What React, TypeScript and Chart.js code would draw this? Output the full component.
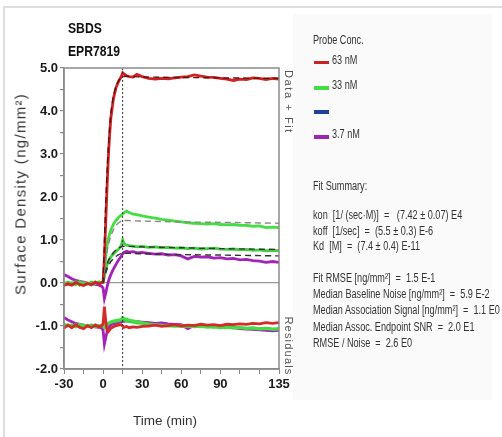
import React, { useEffect, useRef } from "react";
import { Chart, registerables } from "chart.js";

Chart.register(...registerables);

// ---------- data ----------
const timeMin = [-30, -27, -24, -21, -18, -15, -12, -9, -6, -3, -1, 0, 1, 2, 3, 4, 5, 6, 8, 10, 12, 14, 15, 16, 18, 20, 23, 26, 30, 35, 40, 45, 50, 55, 60, 65, 70, 75, 80, 85, 90, 95, 100, 105, 110, 115, 120, 125, 130, 135];

const red63 = [-0.06, -0.02, -0.05, 0.01, -0.03, -0.06, -0.01, -0.04, 0.02, -0.02, 0.01, 0.02, 0.6, 1.4, 2.2, 2.9, 3.45, 3.85, 4.3, 4.55, 4.7, 4.8, 4.89, 4.86, 4.82, 4.8, 4.79, 4.85, 4.8, 4.76, 4.74, 4.76, 4.75, 4.77, 4.79, 4.8, 4.84, 4.81, 4.79, 4.78, 4.76, 4.74, 4.71, 4.74, 4.73, 4.77, 4.76, 4.73, 4.76, 4.74];
const green33 = [0.02, -0.03, 0.01, -0.04, 0.03, -0.02, 0.0, -0.05, 0.02, -0.01, 0.01, 0.03, 0.32, 0.62, 0.86, 1.03, 1.15, 1.24, 1.37, 1.46, 1.53, 1.58, 1.6, 1.63, 1.67, 1.64, 1.6, 1.59, 1.56, 1.53, 1.51, 1.48, 1.46, 1.44, 1.42, 1.4, 1.39, 1.38, 1.37, 1.38, 1.36, 1.35, 1.36, 1.34, 1.34, 1.32, 1.33, 1.29, 1.3, 1.29];
const greenLow = [-0.04, 0.02, -0.02, 0.03, -0.05, 0.01, -0.03, 0.02, -0.01, 0.03, 0.0, 0.02, 0.15, 0.3, 0.42, 0.5, 0.56, 0.61, 0.68, 0.74, 0.79, 0.88, 1.0, 0.92, 0.88, 0.87, 0.86, 0.84, 0.85, 0.83, 0.84, 0.82, 0.83, 0.81, 0.82, 0.8, 0.81, 0.79, 0.8, 0.81, 0.79, 0.78, 0.79, 0.77, 0.78, 0.76, 0.77, 0.75, 0.76, 0.75];
const purple37 = [0.2, 0.15, 0.1, 0.06, 0.04, 0.02, 0.0, -0.02, -0.03, -0.05, -0.08, -0.12, -0.36, -0.24, -0.1, 0.03, 0.12, 0.2, 0.33, 0.44, 0.54, 0.63, 0.68, 0.71, 0.74, 0.72, 0.73, 0.7, 0.71, 0.69, 0.67, 0.68, 0.65, 0.66, 0.63, 0.56, 0.62, 0.6, 0.61, 0.58, 0.59, 0.56, 0.57, 0.54, 0.55, 0.52, 0.51, 0.48, 0.5, 0.48];

// residuals (drawn offset at -1.0)
const redRes = [-1.05, -0.98, -1.04, -0.97, -1.03, -1.06, -0.99, -1.04, -0.98, -1.02, -0.99, -0.95, -0.55, -0.88, -1.1, -1.13, -1.09, -1.05, -1.02, -0.99, -0.98, -0.97, -1.0, -1.03, -1.01, -1.04, -1.02, -1.03, -1.01, -1.0, -0.98, -1.01, -0.99, -0.97, -1.0, -0.98, -0.99, -0.96, -0.98, -0.97, -0.99, -0.96, -0.97, -0.95, -0.96, -0.94, -0.95, -0.92, -0.94, -0.92];
const green33Res = [-0.95, -1.0, -0.97, -1.02, -0.96, -1.0, -0.98, -1.03, -0.97, -1.0, -0.98, -1.0, -1.04, -0.98, -0.95, -0.93, -0.92, -0.9, -0.88, -0.87, -0.86, -0.84, -0.8, -0.82, -0.84, -0.86, -0.88, -0.9, -0.92, -0.95, -0.97, -0.98, -1.0, -1.0, -1.01, -1.0, -1.02, -1.01, -1.03, -1.02, -1.04, -1.03, -1.05, -1.04, -1.06, -1.05, -1.07, -1.06, -1.08, -1.07];
const greenLowRes = [-1.02, -0.97, -1.01, -0.96, -1.03, -0.98, -1.01, -0.97, -1.02, -0.99, -1.0, -0.99, -1.02, -1.0, -0.97, -0.95, -0.93, -0.92, -0.9, -0.89, -0.88, -0.86, -0.83, -0.86, -0.88, -0.9, -0.91, -0.93, -0.94, -0.96, -0.97, -0.99, -0.98, -1.0, -0.99, -1.01, -1.0, -1.02, -1.0, -1.03, -1.01, -1.02, -1.04, -1.03, -1.05, -1.04, -1.06, -1.05, -1.07, -1.06];
const purpleRes = [-0.8, -0.86, -0.9, -0.94, -0.96, -0.98, -1.0, -1.01, -1.02, -1.03, -1.05, -1.1, -1.42, -1.28, -1.14, -1.05, -1.0, -0.97, -0.95, -0.93, -0.92, -0.9, -0.9, -0.89, -0.88, -0.89, -0.9, -0.9, -0.91, -0.92, -0.94, -0.93, -0.95, -0.96, -0.97, -1.06, -0.98, -0.99, -1.0, -1.01, -1.02, -1.03, -1.04, -1.06, -1.07, -1.08, -1.09, -1.1, -1.11, -1.1];

// fits
const fitTime = [0, 1, 2, 3, 4, 6, 8, 10, 12, 15, 30, 60, 90, 135];
const redFit = [0, 0.9, 1.8, 2.55, 3.15, 3.95, 4.35, 4.58, 4.7, 4.8, 4.79, 4.78, 4.77, 4.76];
const green33Fit = [0, 0.27, 0.52, 0.72, 0.88, 1.1, 1.24, 1.34, 1.4, 1.45, 1.44, 1.42, 1.41, 1.39];
const greenLowFit = [0, 0.15, 0.3, 0.42, 0.51, 0.63, 0.71, 0.77, 0.81, 0.85, 0.84, 0.82, 0.8, 0.78];
const purpleFit = [0, 0.12, 0.23, 0.32, 0.39, 0.5, 0.57, 0.62, 0.66, 0.69, 0.68, 0.66, 0.65, 0.63];

const dissociationStart = 15;
const xTickValues = [-30, -15, 0, 15, 30, 45, 60, 75, 90, 105, 120, 135];
const xTickLabels = [-30, 0, 30, 60, 90, 135];

const legendItems = [
  { label: "63 nM", color: "#c92424" },
  { label: "33 nM", color: "#44dd44" },
  { label: "", color: "#1f3f9f" },
  { label: "3.7 nM", color: "#9b27b0" },
];
const fitLines1 = [
  "kon  [1/ (sec·M)]  =   (7.42 ± 0.07) E4",
  "koff  [1/sec]  =  (5.5 ± 0.3) E-6",
  "Kd  [M]  =  (7.4 ± 0.4) E-11",
];
const fitLines2 = [
  "Fit RMSE [ng/mm²]  =  1.5 E-1",
  "Median Baseline Noise [ng/mm²]  =  5.9 E-2",
  "Median Association Signal [ng/mm²]  =  1.1 E0",
  "Median Assoc. Endpoint SNR  =  2.0 E1",
  "RMSE / Noise  =  2.6 E0",
];

const FONT = "'Liberation Sans', Arial, sans-serif";

function pts(xs: number[], ys: number[]) {
  return xs.map((x, i) => ({ x, y: ys[i] }));
}

const framePlugin = {
  id: "frame",
  afterDatasetsDraw(chart: any) {
    const { ctx, chartArea: a, scales } = chart;
    ctx.save();
    const x = scales.x.getPixelForValue(dissociationStart);
    ctx.strokeStyle = "#333";
    ctx.lineWidth = 1;
    ctx.setLineDash([2, 2]);
    ctx.beginPath();
    ctx.moveTo(x, a.top);
    ctx.lineTo(x, a.bottom);
    ctx.stroke();
    ctx.setLineDash([]);
    ctx.strokeStyle = "#8a8a8a";
    ctx.lineWidth = 1.5;
    ctx.strokeRect(a.left, a.top, a.right - a.left, a.bottom - a.top);
    ctx.restore();
  },
};

export default function App() {
  const ref = useRef<HTMLCanvasElement>(null);
  useEffect(() => {
    const canvas = ref.current!;
    const dataLine = (d: number[], color: string) => ({
      data: pts(timeMin, d),
      borderColor: color,
      borderWidth: 2.8,
      pointRadius: 0,
      tension: 0,
    });
    const fitLine = (d: number[], color: string) => ({
      data: pts(fitTime, d),
      borderColor: color,
      borderWidth: 1.4,
      borderDash: [6, 4],
      pointRadius: 0,
      tension: 0.3,
    });
    const chart = new Chart(canvas, {
      type: "line",
      data: {
        datasets: [
          fitLine(redFit, "#5a1010") as any,
          fitLine(green33Fit, "#888888"),
          fitLine(greenLowFit, "#333333"),
          fitLine(purpleFit, "#333333"),
          dataLine(redRes, "#d42a2a"),
          dataLine(green33Res, "#44dd44"),
          dataLine(greenLowRes, "#3fcf3f"),
          dataLine(purpleRes, "#a323b8"),
          dataLine(red63, "#cf2222"),
          dataLine(green33, "#44dd44"),
          dataLine(greenLow, "#3fcf3f"),
          dataLine(purple37, "#a323b8"),
        ],
      },
      options: {
        animation: false,
        responsive: false,
        devicePixelRatio: 1,
        layout: { padding: { left: 24, top: 68, right: 223, bottom: 38 } },
        plugins: { legend: { display: false }, tooltip: { enabled: false } },
        scales: {
          x: {
            type: "linear",
            min: -30,
            max: 135,
            afterBuildTicks: (s: any) => {
              s.ticks = xTickValues.map((v) => ({ value: v }));
            },
            afterFit: (s: any) => {
              s.height = 30;
            },
            ticks: {
              autoSkip: false,
              maxRotation: 0,
              padding: 3,
              color: "#1a1a1a",
              font: { family: FONT, size: 13, weight: "bold" },
              callback: (v: any) => (xTickLabels.includes(Number(v)) ? String(v) : ""),
            },
            grid: { drawOnChartArea: false, tickLength: 5, tickColor: "#8a8a8a", lineWidth: 1 },
            border: { display: true, color: "#8a8a8a", width: 1.5 },
          },
          y: {
            type: "linear",
            min: -2,
            max: 5,
            afterFit: (s: any) => {
              s.width = 40;
            },
            ticks: {
              stepSize: 0.5,
              autoSkip: false,
              padding: 2,
              color: "#1a1a1a",
              font: { family: FONT, size: 13, weight: "bold" },
              callback: (v: any) => (Number.isInteger(Number(v)) ? Number(v).toFixed(1) : ""),
            },
            grid: {
              drawOnChartArea: true,
              tickLength: 4,
              tickColor: "#8a8a8a",
              lineWidth: 1.2,
              color: (c: any) => (c.tick && c.tick.value === 0 ? "#9a9a9a" : "rgba(0,0,0,0)"),
            },
            border: { display: true, color: "#8a8a8a", width: 1.5 },
          },
        },
      },
      plugins: [framePlugin],
    } as any);
    return () => chart.destroy();
  }, []);

  const narrow = (text: string, left: number, cy: number, key?: any) => (
    <div
      key={key}
      style={{
        position: "absolute",
        left,
        top: cy,
        fontSize: 12,
        lineHeight: "12px",
        color: "#333",
        whiteSpace: "pre",
        transform: "translateY(-50%) scaleX(0.76)",
        transformOrigin: "left center",
      }}
    >
      {text}
    </div>
  );

  return (
    <div
      style={{
        position: "fixed",
        left: 0,
        top: 0,
        width: 502,
        height: 437,
        background: "#fff",
        overflow: "hidden",
        fontFamily: FONT,
      }}
    >
      <div style={{ position: "absolute", left: 3, top: 6, width: 520, height: 460, borderLeft: "2px solid #dedede", borderTop: "2px solid #dedede" }} />
      <div style={{ position: "absolute", left: 293, top: 14, width: 199, height: 386, background: "#fafafa" }} />
      <canvas ref={ref} width={502} height={437} style={{ position: "absolute", left: 0, top: 0, width: 502, height: 437 }} />

      <div style={{ position: "absolute", left: 68, top: 21, fontSize: 14, lineHeight: "14px", fontWeight: "bold", color: "#111", transform: "scaleX(0.87)", transformOrigin: "left top" }}>SBDS</div>
      <div style={{ position: "absolute", left: 68, top: 44, fontSize: 14, lineHeight: "14px", fontWeight: "bold", color: "#111", transform: "scaleX(0.87)", transformOrigin: "left top" }}>EPR7819</div>

      <div style={{ position: "absolute", left: 20, top: 194, fontSize: 15, lineHeight: "15px", letterSpacing: "1.3px", color: "#333", whiteSpace: "nowrap", transform: "translate(-50%,-50%) rotate(-90deg)" }}>
        Surface Density (ng/mm²)
      </div>
      <div style={{ position: "absolute", left: 165, top: 421, fontSize: 13.5, lineHeight: "14px", color: "#333", whiteSpace: "nowrap", transform: "translate(-50%,-50%)" }}>
        Time (min)
      </div>
      <div style={{ position: "absolute", left: 288, top: 102, fontSize: 11, lineHeight: "11px", letterSpacing: "1.6px", color: "#555", whiteSpace: "nowrap", transform: "translate(-50%,-50%) rotate(90deg)" }}>
        Data + Fit
      </div>
      <div style={{ position: "absolute", left: 288, top: 346, fontSize: 11, lineHeight: "11px", letterSpacing: "1.2px", color: "#555", whiteSpace: "nowrap", transform: "translate(-50%,-50%) rotate(90deg)" }}>
        Residuals
      </div>

      {narrow("Probe Conc.", 313, 40)}
      {legendItems.map((it, i) => {
        const sy = [62.7, 88, 112, 137][i];
        return (
          <React.Fragment key={i}>
            <div style={{ position: "absolute", left: 314, top: sy - 1.75, width: 15, height: 3.5, background: it.color }} />
            {it.label ? narrow(it.label, 332, sy - 3) : null}
          </React.Fragment>
        );
      })}
      {narrow("Fit Summary:", 313, 186)}
      {fitLines1.map((t, i) => narrow(t, 313, 215 + i * 15.5, "a" + i))}
      {fitLines2.map((t, i) => narrow(t, 313, 278 + i * 16.2, "b" + i))}
    </div>
  );
}
